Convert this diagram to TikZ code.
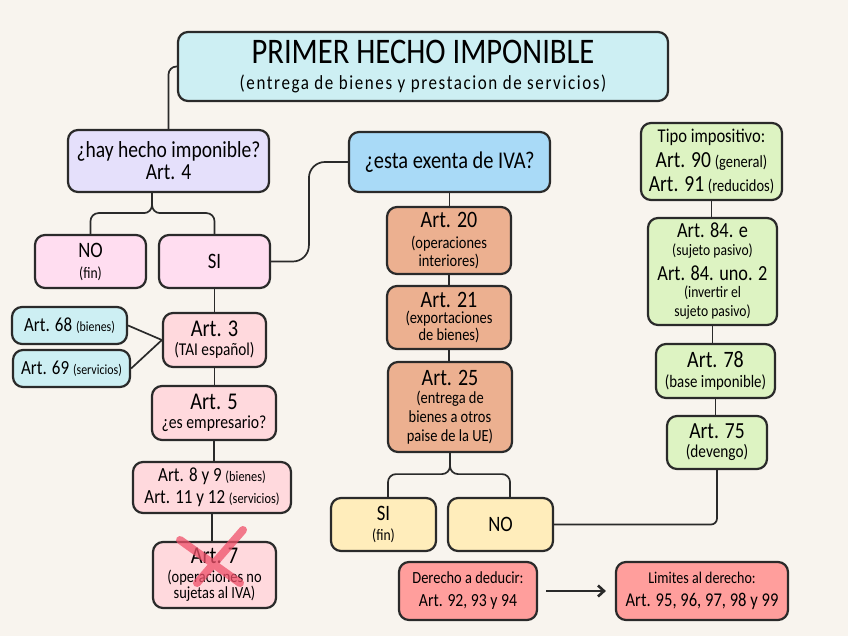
\documentclass[tikz,border=0pt]{standalone}
\usepackage{fontspec}
\setmainfont{Carlito}[FakeStretch=0.85]
\newfontfamily\spacedfont{Carlito}[FakeStretch=0.85,LetterSpace=8]
\usetikzlibrary{arrows.meta,calc}
\definecolor{bgc}{HTML}{F8F4EE}
\definecolor{cyanc}{HTML}{CDEFF3}
\definecolor{lavc}{HTML}{E5E0FB}
\definecolor{pinkc}{HTML}{FFDDF0}
\definecolor{rosec}{HTML}{FFD9DD}
\definecolor{bluec}{HTML}{A9DAF7}
\definecolor{tanc}{HTML}{ECB090}
\definecolor{greenc}{HTML}{DDF3C2}
\definecolor{yelc}{HTML}{FFEDBB}
\definecolor{redc}{HTML}{FF9E9C}
\definecolor{xred}{HTML}{F0506A}
\definecolor{linec}{HTML}{2A2A2A}
\newcommand\fS[2]{{\fontsize{#1}{#1}\selectfont #2}}
\newcommand\fz[2]{\fontsize{#1}{#2}\selectfont\lineskiplimit=-100pt\lineskip=0pt}
\tikzset{
  box/.style={draw=linec, line width=2.2pt, rounded corners=10pt, align=center,
    inner sep=1pt},
  conn/.style={draw=linec, line width=1.7pt},
}
\begin{document}
\begin{tikzpicture}[x=1pt,y=-1pt]
\fill[bgc] (0,0) rectangle (848,636);
\useasboundingbox (0,0) rectangle (848,636);

% title
\node[box, fill=cyanc, minimum width=490pt, minimum height=69pt, font=\fz{36}{26}] (title) at (423,66.5)
 {PRIMER HECHO IMPONIBLE\\{\spacedfont\fontsize{20}{20}\selectfont (entrega de bienes y prestacion de servicios)}};

% left column
\node[box, fill=lavc, minimum width=201pt, minimum height=62pt, font=\fz{23}{22}] (hay) at (168.5,161)
 {¿hay hecho imponible?\\Art. 4};
\node[box, fill=pinkc, minimum width=111pt, minimum height=53pt, font=\fz{22}{21}] (NOa) at (90.5,261.5)
 {NO\\\fS{16}{(fin)}};
\node[box, fill=pinkc, minimum width=111pt, minimum height=53pt, font=\fz{22}{21}] (SIa) at (214.5,261.5)
 {SI};
\node[box, fill=rosec, minimum width=103pt, minimum height=54pt, font=\fz{24}{19}] (a3) at (214.5,340)
 {Art. 3\\\fS{18}{(TAI español)}};
\node[box, fill=cyanc, minimum width=115pt, minimum height=37pt, font=\fz{20}{20}] (a68) at (69.5,325.5)
 {Art. 68 \fS{14}{(bienes)}};
\node[box, fill=cyanc, minimum width=117pt, minimum height=37pt, font=\fz{20}{20}] (a69) at (71.5,368.5)
 {Art. 69 \fS{14}{(servicios)}};
\node[box, fill=rosec, minimum width=124pt, minimum height=54pt, font=\fz{24}{19}] (a5) at (214,413)
 {Art. 5\\\fS{18.5}{¿es empresario?}};
\node[box, fill=rosec, minimum width=158pt, minimum height=51pt, font=\fz{20}{22}] (a89) at (212,487.5)
 {Art. 8 y 9 \fS{14.5}{(bienes)}\\Art. 11 y 12 \fS{14.5}{(servicios)}};
\node[box, fill=rosec, minimum width=123pt, minimum height=66pt, font=\fz{17}{16.5}] (a7) at (214.5,575)
 {\fS{24}{Art. 7}\\[2.5pt](operaciones no\\sujetas al IVA)};

% middle column
\node[box, fill=bluec, minimum width=201pt, minimum height=60pt, font=\fz{24}{24}] (exenta) at (449.5,162)
 {¿esta exenta de IVA?};
\node[box, fill=tanc, minimum width=124pt, minimum height=67pt, font=\fz{17}{18}] (a20) at (449,240.5)
 {\fS{23.5}{Art. 20}\\[3pt](operaciones\\interiores)};
\node[box, fill=tanc, minimum width=124pt, minimum height=63pt, font=\fz{17}{16.5}] (a21) at (449,317.5)
 {\fS{23.5}{Art. 21}\\(exportaciones\\de bienes)};
\node[box, fill=tanc, minimum width=124pt, minimum height=90pt, font=\fz{17}{19}] (a25) at (450,407)
 {\fS{23.5}{Art. 25}\\[-1pt](entrega de\\bienes a otros\\paise de la UE)};
\node[box, fill=yelc, minimum width=105pt, minimum height=53pt, font=\fz{22}{20}] (SIb) at (383.5,524.5)
 {SI\\\fS{16}{(fin)}};
\node[box, fill=yelc, minimum width=105pt, minimum height=53pt, font=\fz{22}{20}] (NOb) at (500.5,524.5)
 {NO};
\node[box, fill=redc, minimum width=138pt, minimum height=58pt, font=\fz{17}{23}] (der) at (468,591)
 {Derecho a deducir:\\\fS{18.5}{Art. 92, 93 y 94}};
\node[box, fill=redc, minimum width=172pt, minimum height=58pt, font=\fz{16.5}{23}] (lim) at (702,591)
 {Limites al derecho:\\\fS{19.5}{Art. 95, 96, 97, 98 y 99}};

% right column
\node[box, fill=greenc, minimum width=141pt, minimum height=77pt, font=\fz{19.5}{24}] (tipo) at (711.5,161.5)
 {Tipo impositivo:\\[1pt]\fS{23}{Art. 90} \fS{17}{(general)}\\\fS{23}{Art. 91} \fS{17}{(reducidos)}};
\node[box, fill=greenc, minimum width=129pt, minimum height=107pt, font=\fz{16}{17.5}] (a84) at (712.5,271.5)
 {\fS{21.5}{Art. 84. e}\\(sujeto pasivo)\\[7.5pt]\fS{21.5}{Art. 84. uno. 2}\\(invertir el\\[1.5pt]sujeto pasivo)};
\node[box, fill=greenc, minimum width=119pt, minimum height=54pt, font=\fz{17.5}{20}] (a78) at (715.5,371)
 {\fS{23.5}{Art. 78}\\(base imponible)};
\node[box, fill=greenc, minimum width=100pt, minimum height=53pt, font=\fz{18}{19}] (a75) at (717,442.5)
 {\fS{23}{Art. 75}\\(devengo)};

% connectors
\draw[conn, rounded corners=8pt] (title.west) -| (hay.north);
\coordinate (hb) at ([xshift=-16.5pt]hay.south);
\draw[conn, rounded corners=8pt] (hb) -- ++(0,20) -| (NOa.north);
\draw[conn, rounded corners=8pt] (hb) -- ++(0,20) -| (SIa.north);
\draw[conn, rounded corners=16pt] (SIa.east) -| ([xshift=-39pt]exenta.west) -- (exenta.west);
\draw[conn] (SIa.south) -- (SIa.south |- a3.north);
\draw[conn] (a68.east) -- (a3.west);
\draw[conn] (a69.east) -- (a3.west);
\draw[conn] (a3.south) -- (a3.south |- a5.north);
\draw[conn] (a5.south) -- (a5.south |- a89.north);
\draw[conn] (a89.south) -- (a89.south |- a7.north);

\draw[conn] (exenta.south) -- (exenta.south |- a20.north);
\draw[conn] (a20.south) -- (a20.south |- a21.north);
\draw[conn] (a21.south) -- (a21.south |- a25.north);
\draw[conn, rounded corners=8pt] (a25.south) -- ++(0,21) -| ([xshift=4.5pt]SIb.north);
\draw[conn, rounded corners=8pt] (a25.south) -- ++(0,21) -| ([xshift=9.5pt]NOb.north);
\draw[conn, rounded corners=6pt] (NOb.east) -| (a75.south);

\draw[conn] (tipo.south) -- (tipo.south |- a84.north);
\draw[conn] (a84.south) -- (a84.south |- a78.north);
\draw[conn] (a78.south) -- (a78.south |- a75.north);

\draw[linec, line width=2.6pt, -{Straight Barb[length=6pt,width=11pt]}]
  ([xshift=8pt]der.east) -- ([xshift=-9pt]lim.west);

% red cross on Art. 7
\draw[xred, opacity=0.75, line width=8pt, line cap=round]
  ($(a7.center)+(-34.5,-35)$) -- ($(a7.center)+(25.5,8)$)
  ($(a7.center)+(28.5,-45)$) -- ($(a7.center)+(-17.5,8)$);
\end{tikzpicture}
\end{document}
